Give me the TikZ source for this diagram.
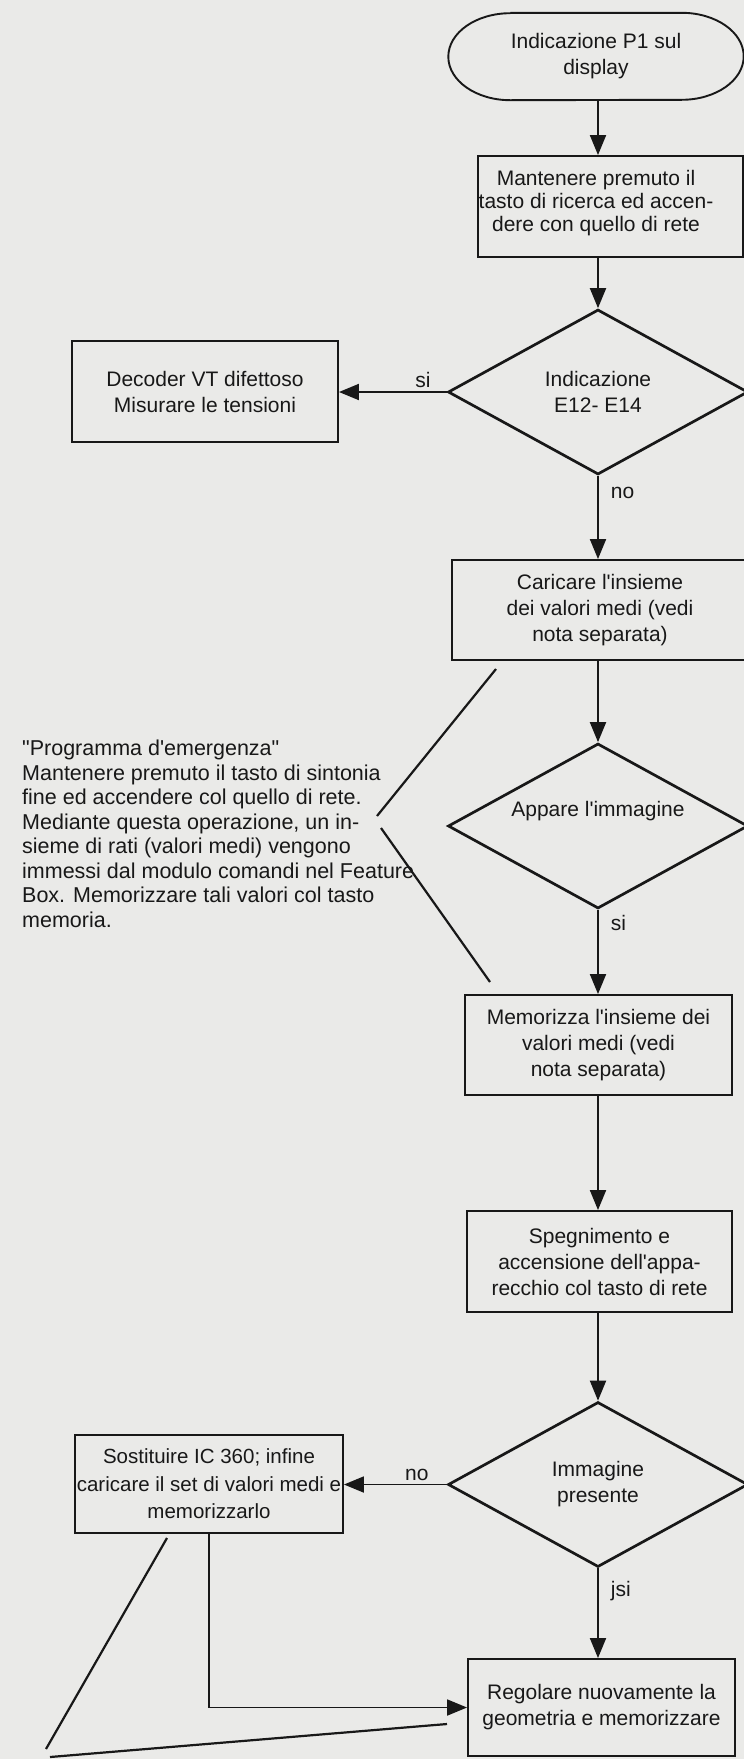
\documentclass[tikz,border=0pt]{standalone}
\usepackage{fontspec}
\setmainfont{Liberation Sans}[Ligatures=TeXOff]
\usetikzlibrary{shapes.geometric,arrows.meta,calc}

\definecolor{paper}{RGB}{234,234,232}
\definecolor{ink}{RGB}{24,24,24}

\begin{document}
\begin{tikzpicture}[x=1pt,y=-1pt,
  every node/.style={font=\fontsize{21}{26}\selectfont, text=ink},
  proc/.style={draw=ink, line width=1.9pt, rectangle, align=center, inner sep=0pt},
  decision/.style={draw=ink, line width=2.7pt, shape=diamond, minimum width=300pt,
    minimum height=165pt, inner sep=0pt, align=center},
  flow/.style={draw=ink, line width=1.9pt, -{Triangle[length=20pt,width=16pt]}},
  plain/.style={draw=ink, line width=1.9pt},
  callout/.style={draw=ink, line width=2.2pt},
  lbl/.style={inner sep=0pt, align=center}
]
% paper and page frame
\fill[paper] (0,0) rectangle (744,1759);
\useasboundingbox (0,0) rectangle (744,1759);

% main column
\coordinate (col) at (598,0);

% start terminal
\node[lbl, minimum width=295pt, minimum height=87pt] (t) at (596,56.5)
  {Indicazione P1 sul\\display};
\draw[plain] ($(t.north west)+(62,0)$) -- ($(t.north east)+(-62,0)$)
  arc[start angle=90, end angle=-90, x radius=62pt, y radius=43.5pt]
  -- ($(t.south west)+(62,0)$)
  arc[start angle=270, end angle=90, x radius=62pt, y radius=43.5pt];

% process boxes
\node[proc, minimum width=265pt, minimum height=101pt] (b2) at (610.5,206.5) {};
\node[lbl, font=\fontsize{21}{23}\selectfont] (b2t) at (596,203)
  {Mantenere premuto il\\tasto di ricerca ed accen-\\dere con quello di rete};

\node[decision] (d1) at (598,392) {Indicazione\\E12- E14};

\node[proc, minimum width=266pt, minimum height=101pt] (dec) at (205,391.5)
  {Decoder VT difettoso\\Misurare le tensioni};

\node[proc, minimum width=296pt, minimum height=100pt] (b3) at (600,610)
  {Caricare l'insieme\\dei valori medi (vedi\\nota separata)};

\node[decision] (d2) at (598,826) {};
\node[lbl] (d2t) at (598,811) {Appare l'immagine};

\node[proc, minimum width=267pt, minimum height=100pt] (b4) at (598.5,1045)
  {Memorizza l'insieme dei\\valori medi (vedi\\nota separata)};

\node[proc, minimum width=265pt, minimum height=101pt] (b5) at (599.5,1261.5)
  {Spegnimento e\\accensione dell'appa-\\recchio col tasto di rete};

\node[decision] (d3) at (598,1484.5) {Immagine\\presente};

\node[proc, minimum width=268pt, minimum height=98pt,
  font=\fontsize{20.5}{27.5}\selectfont] (sost) at (209,1484)
  {Sostituire IC 360; infine\\caricare il set di valori medi e\\memorizzarlo};

\node[proc, minimum width=267pt, minimum height=97pt] (b6) at (601.5,1707.5)
  {Regolare nuovamente la\\geometria e memorizzare};

% emergency programme note
\node[inner sep=0pt, anchor=north west, align=left,
  font=\fontsize{21.5}{24.5}\selectfont] (em) at (22,740)
  {"Programma d'emergenza"\\
   Mantenere premuto il tasto di sintonia\\
   fine ed accendere col quello di rete.\\
   Mediante questa operazione, un in-\\
   sieme di rati (valori medi) vengono\\
   immessi dal modulo comandi nel Feature\\
   Box. Memorizzare tali valori col tasto\\
   memoria.};

% flow connectors
\draw[flow] (t.south -| col) -- (b2.north -| col);
\draw[flow] (b2.south -| col) -- (d1.north);
\draw[flow] (d1.west) -- (d1.west -| dec.east)
  node[lbl, pos=0.22, anchor=south, yshift=3pt] {si};
\draw[flow] (d1.south) -- (b3.north -| col)
  node[lbl, pos=0.21, anchor=west, xshift=12pt] {no};
\draw[flow] (b3.south -| col) -- (d2.north);
\draw[flow] (d2.south) -- (b4.north -| col)
  node[lbl, pos=0.16, anchor=west, xshift=12pt] {si};
\draw[flow] (b4.south -| col) -- (b5.north -| col);
\draw[flow] (b5.south -| col) -- (d3.north);
\draw[flow] (d3.west) -- (d3.west -| sost.east)
  node[lbl, pos=0.29, anchor=south, yshift=3pt] {no};
\draw[flow] (d3.south) -- (b6.north -| col)
  node[lbl, pos=0.25, anchor=west, xshift=12pt] {jsi};
\draw[flow] (sost.south) |- (b6.west);

% bracket lines of the notes
\coordinate (ea) at (496,669);
\coordinate (eb) at (377,816);
\coordinate (ec) at (381,828);
\coordinate (ed) at (490,982);
\draw[callout] (ea) -- (eb);
\draw[callout] (ec) -- (ed);

\coordinate (sa) at (167,1538);
\coordinate (sb) at (46,1749);
\coordinate (sc) at (50,1757);
\coordinate (sd) at (447,1724);
\draw[callout] (sa) -- (sb);
\draw[callout] (sc) -- (sd);
\end{tikzpicture}
\end{document}
